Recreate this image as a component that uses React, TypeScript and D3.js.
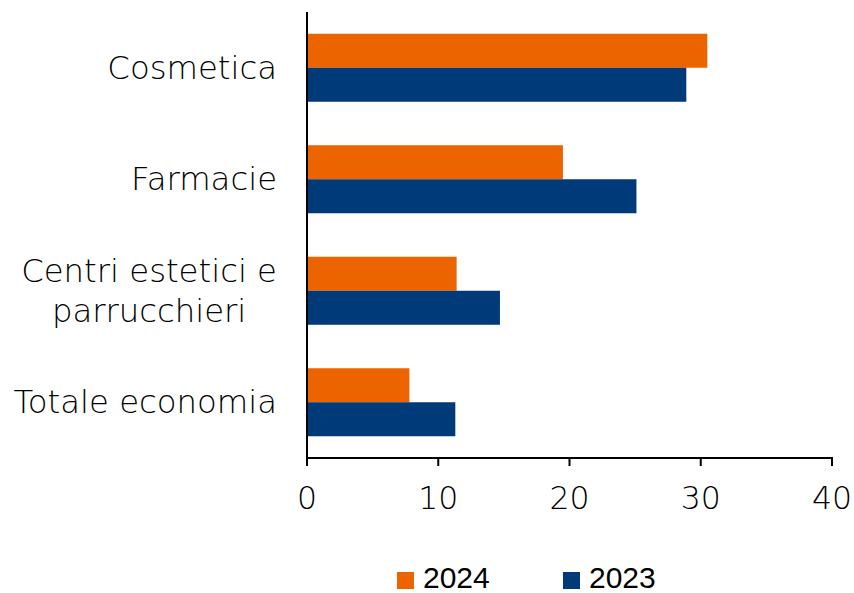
import React, { useEffect, useRef } from "react";
import * as d3 from "d3";

const categories = ["Cosmetica", "Farmacie", "Centri estetici e|parrucchieri", "Totale economia"];
const values2024 = [30.5, 19.5, 11.4, 7.8];
const values2023 = [28.9, 25.1, 14.7, 11.3];
const seriesNames = ["2024", "2023"];
const xTicks = [0, 10, 20, 30, 40];

const COLORS = ["#EB6400", "#003A78"];
const FONT = "'DejaVu Sans', sans-serif";

export default function App() {
  const ref = useRef<SVGSVGElement>(null);
  useEffect(() => {
    const svg = d3.select(ref.current);
    svg.selectAll("*").remove();
    const left = 307, right = 832, top = 12, bottom = 458;
    const x = d3.scaleLinear().domain([0, 40]).range([left, right]);
    const y = d3.scaleBand().domain(categories).range([top, bottom]).paddingInner(0.39).paddingOuter(0.195);
    const sub = d3.scaleBand().domain(seriesNames).range([0, y.bandwidth()]);
    const data = [values2024, values2023];

    categories.forEach((c, i) => {
      seriesNames.forEach((s, j) => {
        svg.append("rect")
          .attr("x", x(0))
          .attr("y", (y(c) as number) + (sub(s) as number))
          .attr("width", x(data[j][i]) - x(0))
          .attr("height", sub.bandwidth())
          .attr("fill", COLORS[j]);
      });
    });

    // axes
    svg.append("line").attr("x1", left).attr("x2", left).attr("y1", top).attr("y2", bottom)
      .attr("stroke", "#000").attr("stroke-width", 2);
    svg.append("line").attr("x1", left).attr("x2", right + 1).attr("y1", bottom).attr("y2", bottom)
      .attr("stroke", "#000").attr("stroke-width", 2);
    xTicks.forEach((t) => {
      svg.append("line").attr("x1", x(t)).attr("x2", x(t)).attr("y1", bottom).attr("y2", bottom + 8)
        .attr("stroke", "#000").attr("stroke-width", 2);
      svg.append("text").attr("x", x(t)).attr("y", 509).attr("text-anchor", "middle")
        .attr("font-family", FONT).attr("font-weight", 200).attr("font-size", 31.5).attr("fill", "#000").text(String(t));
    });

    // category labels
    const labelRight = 277;
    categories.forEach((c) => {
      const lines = c.split("|");
      const cy = (y(c) as number) + y.bandwidth() / 2;
      const lh = 40;
      const g = svg.append("g");
      const texts = lines.map((ln, k) =>
        g.append("text")
          .attr("y", cy + (k - (lines.length - 1) / 2) * lh + 11)
          .attr("font-family", FONT).attr("font-weight", 200).attr("font-size", 32.3).attr("fill", "#000")
          .attr("text-anchor", "middle").text(ln)
      );
      const widths = texts.map((t) => (t.node() as SVGTextElement).getComputedTextLength());
      const maxW = Math.max(...widths);
      texts.forEach((t) => t.attr("x", labelRight - maxW / 2));
    });

    // legend
    const legendItems = [
      { name: seriesNames[0], color: COLORS[0], x: 397 },
      { name: seriesNames[1], color: COLORS[1], x: 563 },
    ];
    legendItems.forEach((it) => {
      svg.append("rect").attr("x", it.x).attr("y", 572).attr("width", 17).attr("height", 17).attr("fill", it.color);
      svg.append("text").attr("x", it.x + 26).attr("y", 588)
        .attr("font-family", "'Liberation Sans', Arial, sans-serif").attr("font-size", 30).attr("fill", "#000").text(it.name);
    });
  }, []);
  return (
    <svg ref={ref} width={854} height={593} style={{ position: "absolute", left: 0, top: 0, background: "#fff" }} />
  );
}
